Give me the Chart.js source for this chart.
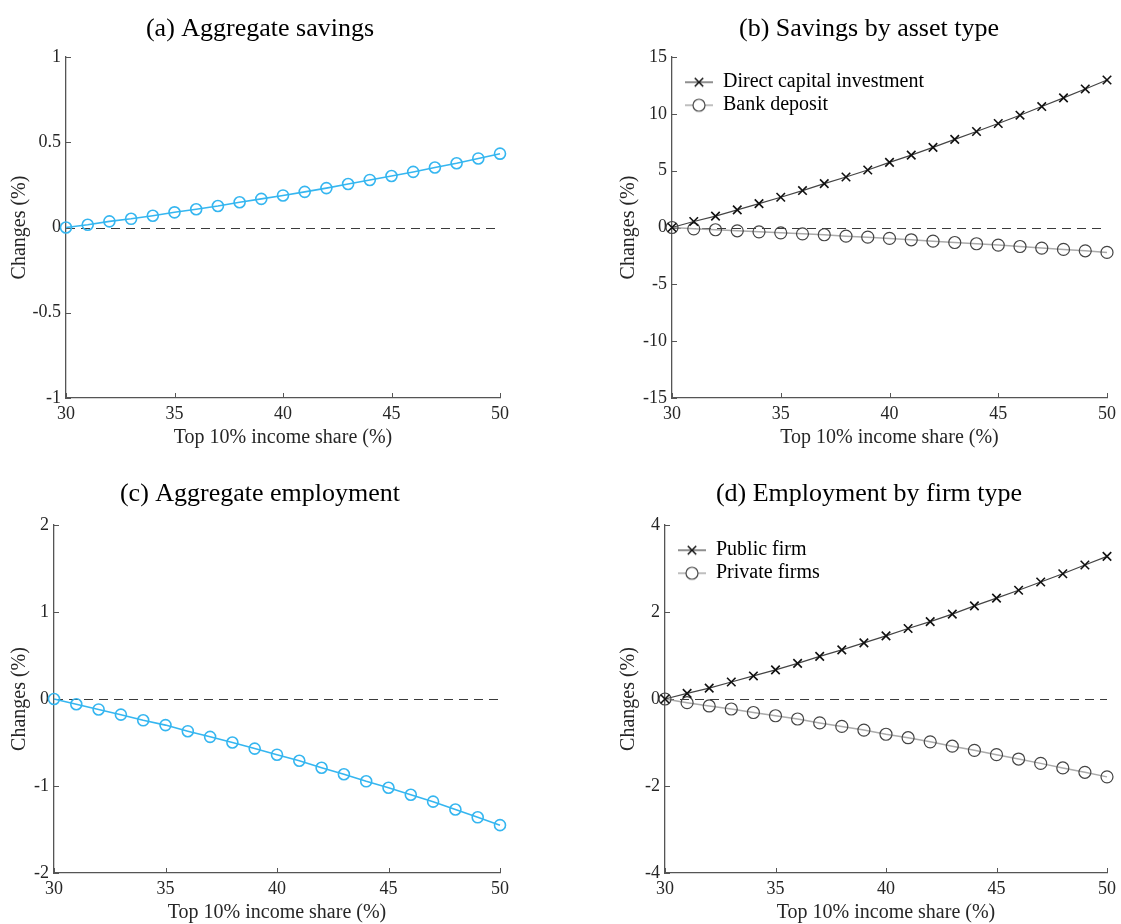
<!DOCTYPE html>
<html><head><meta charset="utf-8">
<script src="https://cdn.jsdelivr.net/npm/chart.js@4.4.1/dist/chart.umd.min.js"></script>
<style>
html,body{margin:0;padding:0;background:#fff;}
#wrap{position:relative;width:1121px;height:924px;overflow:hidden;background:#fff;}
.panel{position:absolute;}
</style></head><body>
<div id="wrap">
  <div class="panel" style="left:0;top:0;width:560px;height:462px"><canvas id="pa"></canvas></div>
  <div class="panel" style="left:560px;top:0;width:561px;height:462px"><canvas id="pb"></canvas></div>
  <div class="panel" style="left:0;top:462px;width:560px;height:462px"><canvas id="pc"></canvas></div>
  <div class="panel" style="left:560px;top:462px;width:561px;height:462px"><canvas id="pd"></canvas></div>
</div>
<script>
// ---------- data ----------
const incomeShare = [30,31,32,33,34,35,36,37,38,39,40,41,42,43,44,45,46,47,48,49,50];
const aggSavings = [0,0.016,0.036,0.051,0.069,0.089,0.107,0.126,0.148,0.168,0.188,0.209,0.231,0.255,0.279,0.302,0.326,0.352,0.377,0.405,0.433];
const directCapital = [0,0.53,1.0,1.55,2.1,2.66,3.25,3.86,4.44,5.06,5.73,6.37,7.05,7.75,8.45,9.15,9.88,10.64,11.4,12.19,12.98];
const bankDeposit = [0,-0.12,-0.2,-0.29,-0.38,-0.47,-0.56,-0.64,-0.76,-0.85,-0.96,-1.08,-1.2,-1.32,-1.43,-1.55,-1.67,-1.81,-1.93,-2.05,-2.19];
const aggEmployment = [0,-0.06,-0.12,-0.18,-0.245,-0.30,-0.37,-0.435,-0.50,-0.57,-0.64,-0.71,-0.79,-0.865,-0.946,-1.02,-1.10,-1.18,-1.27,-1.36,-1.45];
const publicFirm = [0,0.13,0.25,0.39,0.53,0.67,0.82,0.98,1.13,1.29,1.45,1.62,1.78,1.95,2.14,2.32,2.5,2.69,2.88,3.08,3.28];
const privateFirms = [0,-0.085,-0.16,-0.23,-0.31,-0.385,-0.46,-0.55,-0.63,-0.715,-0.81,-0.89,-0.985,-1.085,-1.18,-1.28,-1.38,-1.48,-1.585,-1.685,-1.79];

const xTicks = [30,35,40,45,50];
const xTickLabels = ['30','35','40','45','50'];
const yTicksA = [-1,-0.5,0,0.5,1];
const yLabelsA = ['-1','-0.5','0','0.5','1'];
const yTicksB = [-15,-10,-5,0,5,10,15];
const yLabelsB = ['-15','-10','-5','0','5','10','15'];
const yTicksC = [-2,-1,0,1,2];
const yLabelsC = ['-2','-1','0','1','2'];
const yTicksD = [-4,-2,0,2,4];
const yLabelsD = ['-4','-2','0','2','4'];

const titles = ['(a) Aggregate savings','(b) Savings by asset type','(c) Aggregate employment','(d) Employment by firm type'];
const xTitle = 'Top 10% income share (%)';
const yTitle = 'Changes (%)';
const namesB = ['Direct capital investment','Bank deposit'];
const namesD = ['Public firm','Private firms'];

// ---------- styles ----------
const SERIF = "'Liberation Serif','Times New Roman',serif";
const TXT = '#262626';
const AX = '#555555';
const BLUE = '#35B6F0';

function pts(arr){ return incomeShare.map((x,i)=>({x:x, y:arr[i]})); }

const zeroLine = {
  id:'zeroLine',
  beforeDatasetsDraw(chart){
    const {ctx, scales:{x,y}} = chart;
    const py = Math.round(y.getPixelForValue(0)) + 0.5;
    ctx.save();
    ctx.setLineDash([9,6]);
    ctx.strokeStyle = '#3a3a3a';
    ctx.lineWidth = 1.2;
    ctx.beginPath();
    ctx.moveTo(x.getPixelForValue(x.min), py);
    ctx.lineTo(x.getPixelForValue(x.max), py);
    ctx.stroke();
    ctx.restore();
  }
};
const innerTicks = {
  id:'innerTicks',
  beforeDatasetsDraw(chart){
    const {ctx, scales:{x,y}, chartArea:ca} = chart;
    ctx.save();
    ctx.strokeStyle = AX; ctx.lineWidth = 1;
    ctx.beginPath();
    x.ticks.forEach(t=>{ const px = Math.round(x.getPixelForValue(t.value))+0.5; ctx.moveTo(px, ca.bottom); ctx.lineTo(px, ca.bottom-5); });
    y.ticks.forEach(t=>{ const py = Math.round(y.getPixelForValue(t.value))+0.5; ctx.moveTo(ca.left, py); ctx.lineTo(ca.left+5, py); });
    ctx.stroke();
    ctx.restore();
  }
};
const legendFix = {
  id:'legendFix',
  afterLayout(chart){
    const lg = chart.legend;
    if (!lg || !lg.options.display) return;
    const ca = chart.chartArea;
    lg.left = ca.left; lg.top = ca.top; lg.right = ca.right; lg.bottom = ca.bottom;
    lg.width = ca.right - ca.left; lg.height = ca.bottom - ca.top;
  }
};

function legendImg(kind, lineColor, lineWidth, markColor, markWidth){
  const c = document.createElement('canvas');
  c.width = 38; c.height = 16;
  const g = c.getContext('2d');
  g.strokeStyle = lineColor; g.lineWidth = lineWidth;
  g.beginPath();
  if (kind === 'x'){ g.moveTo(10,8); g.lineTo(38,8); }
  else { g.moveTo(10,8); g.lineTo(18,8); g.moveTo(30,8); g.lineTo(38,8); }
  g.stroke();
  g.strokeStyle = markColor; g.lineWidth = markWidth;
  g.beginPath();
  if (kind === 'x'){ const r=4.2; g.moveTo(24-r,8-r); g.lineTo(24+r,8+r); g.moveTo(24+r,8-r); g.lineTo(24-r,8+r); }
  else { g.arc(24,8,6,0,2*Math.PI); }
  g.stroke();
  return c;
}

function legendCfg(names){
  const imgs = [legendImg('x','#444',1.2,'#111',1.5), legendImg('o','#aaa',1.5,'#444',1.2)];
  return {
    display:true, position:'chartArea', align:'start',
    title:{display:true, text:'', font:{size:1}, padding:{top:0,bottom:11}},
    labels:{
      usePointStyle:true, pointStyleWidth:38, padding:3,
      font:{family:SERIF, size:20}, color:'#000',
      generateLabels(){ return names.map((n,i)=>({text:n, pointStyle:imgs[i], fillStyle:'rgba(0,0,0,0)', strokeStyle:'rgba(0,0,0,0)', lineWidth:0, hidden:false, datasetIndex:i, fontColor:'#000'})); }
    }
  };
}

function blueSet(arr){
  return [{data:pts(arr), borderColor:BLUE, borderWidth:1.6, pointStyle:'circle', pointRadius:5.5, pointBorderColor:BLUE, pointBackgroundColor:'rgba(0,0,0,0)', pointBorderWidth:1.6, tension:0, clip:false}];
}
function pairSets(up, down){
  return [
    {data:pts(up), borderColor:'#444', borderWidth:1.2, pointStyle:'crossRot', pointRadius:6, pointBorderColor:'#111', pointBackgroundColor:'rgba(0,0,0,0)', pointBorderWidth:1.6, tension:0, clip:false},
    {data:pts(down), borderColor:'#aaa', borderWidth:1.5, pointStyle:'circle', pointRadius:6, pointBorderColor:'#444', pointBackgroundColor:'rgba(0,0,0,0)', pointBorderWidth:1.2, tension:0, clip:false}
  ];
}

function makePanel(id, title, datasets, yT, yL, g, legend){
  new Chart(document.getElementById(id), {
    type:'line',
    data:{datasets},
    options:{
      responsive:true, maintainAspectRatio:false, animation:false,
      layout:{padding:{left:g.padL, right:g.padR, top:0, bottom:0}},
      plugins:{
        title:{display:true, text:title, color:'#000', font:{family:SERIF, size:26, weight:'normal'}, padding:{top:g.tPT, bottom:g.tPB}},
        legend: legend || {display:false},
        tooltip:{enabled:false}
      },
      scales:{
        x:{
          type:'linear', min:30, max:50,
          afterBuildTicks:s=>{ s.ticks = xTicks.map(v=>({value:v})); },
          afterFit:s=>{ s.height = g.xH; },
          grid:{display:false, drawTicks:false},
          border:{display:true, color:AX, width:1.3},
          ticks:{color:TXT, font:{family:SERIF, size:18}, padding:5, maxRotation:0, autoSkip:false, callback:(v,i)=>xTickLabels[i]},
          title:{display:true, text:xTitle, color:TXT, font:{family:SERIF, size:20}, padding:{top:0, bottom:g.xTPB}}
        },
        y:{
          type:'linear', min:yT[0], max:yT[yT.length-1],
          afterBuildTicks:s=>{ s.ticks = yT.map(v=>({value:v})); },
          afterFit:s=>{ s.width = g.yW; },
          grid:{display:false, drawTicks:false},
          border:{display:true, color:AX, width:1.3},
          ticks:{color:TXT, font:{family:SERIF, size:18}, padding:5, autoSkip:false, callback:(v,i)=>yL[i]},
          title:{display:true, text:yTitle, color:TXT, font:{family:SERIF, size:20}, padding:{top:g.yTP, bottom:0}}
        }
      }
    },
    plugins:[zeroLine, innerTicks, legendFix]
  });
}

makePanel('pa', titles[0], blueSet(aggSavings), yTicksA, yLabelsA,
  {padL:20, padR:60, yW:46, xH:64, tPT:13.6, tPB:12.2, yTP:-12, xTPB:12.75});
makePanel('pb', titles[1], pairSets(directCapital, bankDeposit), yTicksB, yLabelsB,
  {padL:70, padR:13, yW:42, xH:64, tPT:13.6, tPB:12.2, yTP:-13, xTPB:12.75}, legendCfg(namesB));
makePanel('pc', titles[2], blueSet(aggEmployment), yTicksC, yLabelsC,
  {padL:20, padR:60, yW:34, xH:51, tPT:16.3, tPB:15.5, yTP:-12, xTPB:-0.25});
makePanel('pd', titles[3], pairSets(publicFirm, privateFirms), yTicksD, yLabelsD,
  {padL:70, padR:13, yW:35, xH:51, tPT:16.3, tPB:15.5, yTP:-13, xTPB:-0.25}, legendCfg(namesD));
</script>
</body></html>
